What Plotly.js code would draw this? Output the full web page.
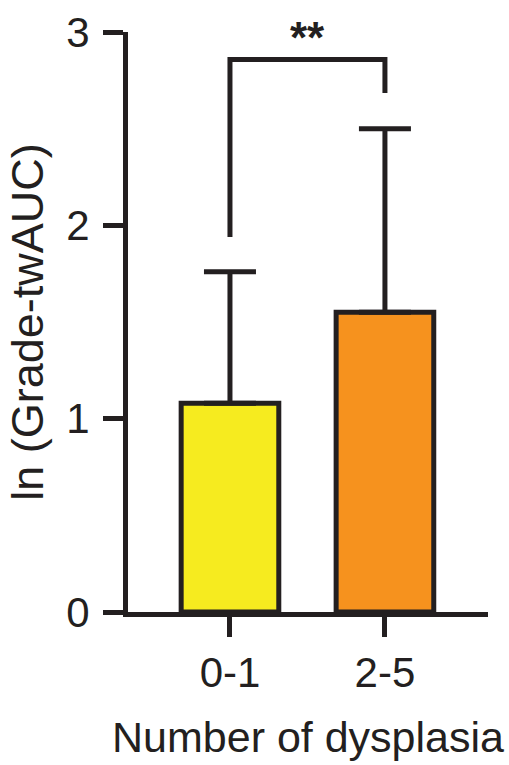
<!DOCTYPE html>
<html>
<head>
<meta charset="utf-8">
<script src="https://cdn.plot.ly/plotly-3.0.1.min.js"></script>
<style>html,body{margin:0;padding:0;background:#fff;}</style>
</head>
<body>
<div id="chart" style="width:509px;height:765px;"></div>
<script>
// Data
const categories = ['0-1', '2-5'];
const means = [1.08, 1.55];
const errUpper = [0.68, 0.95];
const barColors = ['#F6EB1F', '#F6921E'];
const yTickVals = [0, 1, 2, 3];
const sigLabel = '**';

const ink = '#231F20';
const xIdx = categories.map((c, i) => i);

const trace = {
  type: 'bar',
  x: xIdx,
  y: means,
  width: 0.63,
  marker: { color: barColors, line: { color: ink, width: 5 } },
  error_y: {
    type: 'data', symmetric: false,
    array: errUpper, arrayminus: [0, 0],
    color: ink, thickness: 5, width: 26
  },
  cliponaxis: false,
  hoverinfo: 'skip'
};

const layout = {
  width: 509, height: 765,
  margin: { l: 128, r: 21, t: 32, b: 153 },
  paper_bgcolor: '#fff', plot_bgcolor: '#fff',
  showlegend: false,
  font: { family: '"Liberation Sans", Arial, sans-serif', color: ink },
  xaxis: {
    range: [-0.658, 1.665],
    tickvals: xIdx, ticktext: categories,
    showline: true, linecolor: ink, linewidth: 5,
    ticks: 'outside', ticklen: 20, tickwidth: 5, tickcolor: ink,
    showgrid: false, zeroline: false,
    tickfont: { size: 42, color: ink },
    title: { text: 'Number of dysplasia', font: { size: 43, color: ink }, standoff: 28 }
  },
  yaxis: {
    range: [0, 3],
    tickvals: yTickVals,
    showline: true, linecolor: ink, linewidth: 5,
    ticks: 'outside', ticklen: 20, tickwidth: 5, tickcolor: ink,
    ticklabelstandoff: 5,
    showgrid: false, zeroline: false,
    tickfont: { size: 42, color: ink },
    title: { text: 'ln (Grade-twAUC)', font: { size: 45, color: ink }, standoff: 10 }
  },
  shapes: [{
    type: 'path', xref: 'x', yref: 'y',
    path: 'M 0,1.94 L 0,2.858 L 1,2.858 L 1,2.685',
    line: { color: ink, width: 5 }
  }],
  annotations: [{
    x: 0.5, y: 1.036, xref: 'x', yref: 'paper',
    text: '<b>' + sigLabel + '</b>', showarrow: false,
    font: { size: 44, color: ink }, yanchor: 'top', xanchor: 'center'
  }]
};

Plotly.newPlot('chart', [trace], layout, { displayModeBar: false, staticPlot: true });
</script>
</body>
</html>
